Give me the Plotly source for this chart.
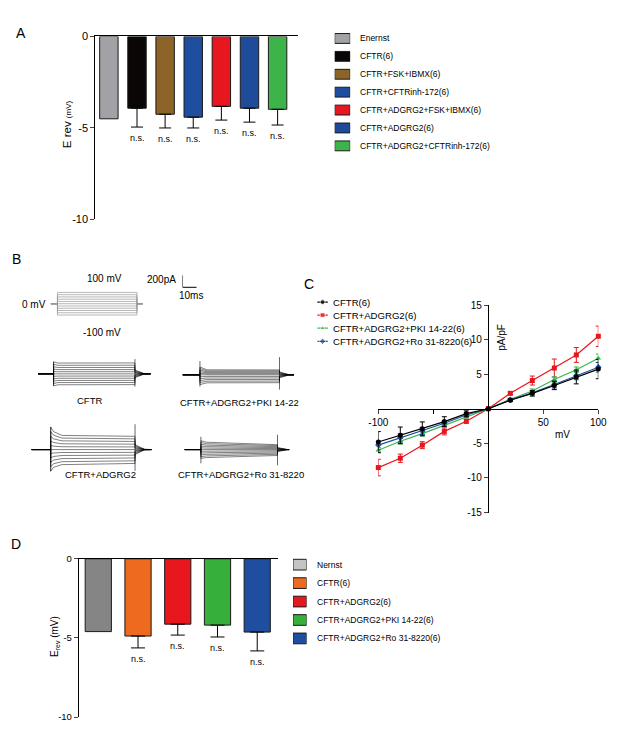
import plotly.graph_objects as go

W, H = 617, 730
FONT = "Liberation Sans, Arial, sans-serif"

# ---------------- panel A : reversal potentials ----------------
a_groups = ["Enernst", "CFTR(6)", "CFTR+FSK+IBMX(6)", "CFTR+CFTRinh-172(6)",
            "CFTR+ADGRG2+FSK+IBMX(6)", "CFTR+ADGRG2(6)", "CFTR+ADGRG2+CFTRinh-172(6)"]
a_erev = [-4.5, -3.92, -4.25, -4.41, -3.82, -3.92, -3.98]
a_sem = [0, 1.03, 0.75, 0.59, 0.75, 0.76, 0.86]
a_colors = ["#a2a2a6", "#0b0606", "#8c6428", "#1f4e9e", "#e8161e", "#1f4b9b", "#3cb44a"]

# ---------------- panel D : reversal potentials ----------------
d_groups = ["Nernst", "CFTR(6)", "CFTR+ADGRG2(6)", "CFTR+ADGRG2+PKI 14-22(6)",
            "CFTR+ADGRG2+Ro 31-8220(6)"]
d_erev = [-4.6, -4.88, -4.13, -4.19, -4.63]
d_sem = [0, 0.75, 0.69, 0.75, 1.19]
d_colors = ["#858585", "#ee6a1e", "#e8171d", "#36b03a", "#1f4ea1"]
d_swatch = ["#c4c4c4", "#ee6a1e", "#e8171d", "#36b03a", "#1f4ea1"]

# ---------------- panel C : I-V curves ----------------
iv_mv = [-100, -80, -60, -40, -20, 0, 20, 40, 60, 80, 100]
iv_names = ["CFTR(6)", "CFTR+ADGRG2(6)", "CFTR+ADGRG2+PKI 14-22(6)", "CFTR+ADGRG2+Ro 31-8220(6)"]
iv_cftr = [-4.8, -3.84, -2.9, -1.85, -0.7, 0, 1.24, 2.23, 3.37, 4.6, 5.74]
iv_cftr_sem = [1.5, 1.2, 1.0, 0.7, 0.4, 0, 0.2, 0.4, 0.6, 1.0, 1.4]
iv_adgrg2 = [-8.5, -7.15, -5.26, -3.27, -1.8, 0, 2.23, 4.08, 5.89, 7.78, 10.48]
iv_adgrg2_sem = [1.2, 0.6, 0.5, 0.5, 0.3, 0, 0.2, 0.65, 1.3, 1.07, 1.47]
iv_pki = [-6.0, -4.7, -3.6, -2.4, -1.14, 0, 1.38, 2.56, 4.22, 5.64, 7.3]
iv_pki_sem = [0.4, 0.4, 0.35, 0.3, 0.2, 0, 0.15, 0.3, 0.4, 0.4, 0.6]
iv_ro = [-5.25, -4.2, -3.2, -2.1, -0.9, 0, 1.3, 2.3, 3.5, 4.8, 6.0]
iv_ro_sem = [0.6, 0.6, 0.5, 0.4, 0.3, 0, 0.15, 0.3, 0.5, 0.6, 0.7]
iv_colors = ["#000000", "#e8161e", "#3cb44a", "#1f4ea1"]
iv_symbols = ["circle", "square", "triangle-up", "diamond"]

# ---------------- panel B : voltage protocol and current sweeps ----------------
sweep_mv = [-100, -80, -60, -40, -20, 0, 20, 40, 60, 80, 100]
proto_ms = [4.8, 56.6, 65.5]          # step onset, step length, sweep end

# per recording: [onset, step length, end] (ms), knots after onset (ms),
# currents at each knot (pA), tail current (pA), [on hi, on lo, off hi, off lo] artefacts (pA)
cftr_ms = [11.0, 57.9, 80.0]
cftr_knots = [0, 3, 57.9]
cftr_pA = [[-205, -165, -125, -84, -42, 0, 40, 80, 120, 162, 205],
           [-185, -148, -112, -75, -38, 0, 36, 72, 108, 145, 183],
           [-183, -147, -111, -74, -37, 0, 36, 72, 108, 146, 185]]
cftr_tail = [-65, -52, -39, -26, -13, 0, 13, 26, 39, 52, 65]
cftr_spike = [205, -205, 250, -217]

adgrg2_ms = [13.8, 60.0, 85.5]
adgrg2_knots = [0, 2, 8, 60.0]
adgrg2_pA = [[-367, -290, -215, -140, -68, 0, 70, 145, 225, 305, 383],
             [-300, -240, -178, -117, -58, 0, 58, 120, 182, 245, 305],
             [-255, -205, -153, -100, -50, 0, 48, 98, 148, 195, 240],
             [-235, -190, -142, -94, -47, 0, 45, 92, 138, 182, 225]]
adgrg2_tail = [-85, -68, -51, -34, -17, 0, 17, 34, 51, 68, 85]
adgrg2_spike = [383, -367, 430, -360]

pki_ms = [12.4, 56.6, 79.3]
pki_knots = [0, 5, 56.6]
pki_pA = [[-165, -130, -98, -65, -32, 0, 27, 54, 80, 107, 133],
          [-135, -108, -80, -54, -27, 0, 17, 34, 50, 67, 85],
          [-133, -106, -80, -53, -27, 0, 17, 33, 50, 67, 83]]
pki_tail = [-50, -40, -30, -20, -10, 0, 10, 20, 30, 40, 50]
pki_spike = [233, -200, 300, -250]

ro_ms = [11.7, 54.5, 74.5]
ro_knots = [0, 4, 54.5]
ro_pA = [[-150, -120, -90, -60, -30, 0, 30, 60, 90, 120, 150],
         [-135, -108, -81, -54, -27, 0, 25, 50, 75, 100, 125],
         [-100, -80, -60, -40, -20, 0, 17, 33, 50, 67, 83]]
ro_tail = [-35, -28, -21, -14, -7, 0, 7, 14, 21, 28, 35]
ro_spike = [217, -233, 250, -267]

tail_ms = 7
scale_bar = [200, 10]                 # pA, ms

PX_MS = 1.45     # pixels per ms in panel B
PX_PA = 0.06     # pixels per pA in panel B
PX_MV = 0.115    # pixels per mV in the protocol


def fx(p):
    return p / W


def fy(p):
    return 1 - p / H


def hidden_axes(layout, n, x0, y0, w, up, down, xscale, yscale):
    # hidden subplot whose data origin sits at pixel (x0, y0)
    layout[f"xaxis{n}"] = dict(domain=[fx(x0), fx(x0 + w)], range=[0, w / xscale],
                               visible=False, anchor=f"y{n}")
    layout[f"yaxis{n}"] = dict(domain=[fy(y0 + down), fy(y0 - up)],
                               range=[-down / yscale, up / yscale], visible=False, anchor=f"x{n}")


def legend_axes(layout, n, x0, x1, first_row, step, rows):
    # hidden subplot used as a hand-made legend: row k sits at first_row + k*step pixels
    layout[f"xaxis{n}"] = dict(domain=[fx(x0), fx(x1)], range=[0, 1], visible=False, anchor=f"y{n}")
    top = first_row - step / 2
    bottom = first_row + step * (rows - 0.5)
    layout[f"yaxis{n}"] = dict(domain=[fy(bottom), fy(top)], range=[rows - 0.5, -0.5],
                               visible=False, anchor=f"x{n}")


def sweeps(timing, knots, levels, tail, spike, n):
    onset, length, end = timing
    off = onset + length
    xs, ys = [], []
    for i in range(len(sweep_mv)):
        xs += [0, onset] + [onset + k for k in knots] + [off, off + tail_ms, end, None]
        ys += [0, 0] + [lv[i] for lv in levels] + [tail[i], 0, 0, None]
    traces = [go.Scatter(x=xs, y=ys, mode="lines", line=dict(color="black", width=0.5),
                         xaxis=f"x{n}", yaxis=f"y{n}", showlegend=False, hoverinfo="skip")]
    traces.append(go.Scatter(x=[onset, onset, None, off, off],
                             y=[spike[0], spike[1], None, spike[2], spike[3]],
                             mode="lines", line=dict(color="black", width=0.6),
                             xaxis=f"x{n}", yaxis=f"y{n}", showlegend=False, hoverinfo="skip"))
    return traces


fig = go.Figure()

# ---- bars A ----
for name, val, sem, col in zip(a_groups, a_erev, a_sem, a_colors):
    fig.add_trace(go.Bar(
        x=[name], y=[val], name=name, width=0.655,
        marker=dict(color=col, line=dict(color="#1a1a1a", width=1)),
        error_y=dict(type="data", symmetric=False, array=[0], arrayminus=[sem],
                     color="black", thickness=1, width=6, visible=sem > 0),
        xaxis="x", yaxis="y", showlegend=False, hoverinfo="skip"))

# ---- bars D ----
for name, val, sem, col in zip(d_groups, d_erev, d_sem, d_colors):
    fig.add_trace(go.Bar(
        x=[name], y=[val], name=name, width=0.66,
        marker=dict(color=col, line=dict(color="#1a1a1a", width=1)),
        error_y=dict(type="data", symmetric=False, array=[0], arrayminus=[sem],
                     color="black", thickness=1, width=7, visible=sem > 0),
        xaxis="x2", yaxis="y2", showlegend=False, hoverinfo="skip"))

# legend swatches A and D (hand-made legends)
fig.add_trace(go.Bar(x=[1] * len(a_groups), y=list(range(len(a_groups))), orientation="h",
                     width=0.55, marker=dict(color=a_colors, line=dict(color="#1a1a1a", width=1)),
                     xaxis="x11", yaxis="y11", showlegend=False, hoverinfo="skip"))
fig.add_trace(go.Bar(x=[1] * len(d_groups), y=list(range(len(d_groups))), orientation="h",
                     width=0.58, marker=dict(color=d_swatch, line=dict(color="#1a1a1a", width=1)),
                     xaxis="x12", yaxis="y12", showlegend=False, hoverinfo="skip"))

# ---- I-V C ----
iv_vals = [iv_cftr, iv_adgrg2, iv_pki, iv_ro]
iv_sems = [iv_cftr_sem, iv_adgrg2_sem, iv_pki_sem, iv_ro_sem]
for k in [1, 2, 3, 0]:
    fig.add_trace(go.Scatter(
        x=iv_mv, y=iv_vals[k], mode="lines+markers", name=iv_names[k],
        line=dict(color=iv_colors[k], width=1.2),
        marker=dict(symbol=iv_symbols[k], size=5, color=iv_colors[k]),
        error_y=dict(type="data", array=iv_sems[k], color=iv_colors[k], thickness=1, width=2.5),
        xaxis="x3", yaxis="y3", showlegend=False, cliponaxis=False, hoverinfo="skip"))

# hand-made legend for C (tight rows)
for k, name in enumerate(iv_names):
    fig.add_trace(go.Scatter(
        x=[0, 0.5, 1], y=[k, k, k], mode="lines+markers",
        line=dict(color=iv_colors[k], width=1.2),
        marker=dict(symbol=iv_symbols[k], size=[0, 5, 0], color=iv_colors[k]),
        xaxis="x10", yaxis="y10", showlegend=False, hoverinfo="skip", cliponaxis=False))

# ---- protocol B ----
pxs, pys = [], []
on, length, end = proto_ms
for v in sweep_mv:
    pxs += [0, on, on, on + length, on + length, end, None]
    pys += [0, 0, v, v, 0, 0, None]
fig.add_trace(go.Scatter(x=pxs, y=pys, mode="lines", line=dict(color="#9a9a9a", width=0.7),
                         xaxis="x4", yaxis="y4", showlegend=False, hoverinfo="skip"))

for tr in sweeps(cftr_ms, cftr_knots, cftr_pA, cftr_tail, cftr_spike, 5):
    fig.add_trace(tr)
for tr in sweeps(adgrg2_ms, adgrg2_knots, adgrg2_pA, adgrg2_tail, adgrg2_spike, 6):
    fig.add_trace(tr)
for tr in sweeps(pki_ms, pki_knots, pki_pA, pki_tail, pki_spike, 7):
    fig.add_trace(tr)
for tr in sweeps(ro_ms, ro_knots, ro_pA, ro_tail, ro_spike, 8):
    fig.add_trace(tr)

# scale bar
fig.add_trace(go.Scatter(x=[0, 0, scale_bar[1]], y=[scale_bar[0], 0, 0], mode="lines",
                         line=dict(color="black", width=1), xaxis="x9", yaxis="y9",
                         showlegend=False, hoverinfo="skip"))

layout = dict(
    width=W, height=H, margin=dict(l=0, r=0, t=0, b=0),
    paper_bgcolor="white", plot_bgcolor="rgba(0,0,0,0)", showlegend=False,
    barmode="overlay", font=dict(family=FONT, size=10, color="black"),
    xaxis=dict(domain=[fx(88), fx(297)], range=[-0.483, 6.72], type="category",
               side="top", showline=True, linecolor="black", linewidth=1,
               showticklabels=False, ticks="", showgrid=False, zeroline=False, anchor="y"),
    yaxis=dict(domain=[fy(217), fy(31)], range=[-10, 0], showline=True, linecolor="black",
               linewidth=1, ticks="outside", ticklen=4, tickwidth=1,
               tickvals=[0, -5, -10], ticktext=["0", "-5", "-10"],
               tickfont=dict(size=11), showgrid=False, zeroline=False, anchor="x"),
    xaxis2=dict(domain=[fx(71), fx(276)], range=[-0.49, 4.51], type="category",
                side="top", showline=True, linecolor="black", linewidth=1,
                showticklabels=False, ticks="", showgrid=False, zeroline=False, anchor="y2"),
    yaxis2=dict(domain=[fy(723), fy(562)], range=[-10, 0], showline=True, linecolor="black",
                linewidth=1, ticks="outside", ticklen=4, tickwidth=1,
                tickvals=[0, -5, -10], ticktext=["0", "-5", "-10"],
                tickfont=dict(size=9.5), showgrid=False, zeroline=False, anchor="x2"),
    xaxis3=dict(domain=[fx(380), fx(607)], range=[-100, 100], anchor="free",
                position=fy(409.7), showline=True, linecolor="black", linewidth=1,
                ticks="outside", ticklen=4, tickvals=[-100, 50, 100],
                ticktext=["-100", "50", "100"], tickfont=dict(size=10),
                minor=dict(tickvals=[-50], ticks="outside", ticklen=4, tickcolor="black"),
                showgrid=False, zeroline=False),
    yaxis3=dict(domain=[fy(515), fy(304)], range=[-15, 15], anchor="free",
                position=fx(493), showline=True, linecolor="black", linewidth=1,
                ticks="outside", ticklen=4, tickvals=[-15, -10, -5, 5, 10, 15],
                ticktext=["-15", "-10", "-5", "5", "10", "15"], tickfont=dict(size=10),
                showgrid=False, zeroline=False),
)
hidden_axes(layout, 4, 42, 302.7, 96, 16, 16, PX_MS, PX_MV)
hidden_axes(layout, 5, 29, 374, 117, 22, 22, PX_MS, PX_PA)
hidden_axes(layout, 6, 22, 451, 125, 30, 30, PX_MS, PX_PA)
hidden_axes(layout, 7, 178, 375, 116, 22, 22, PX_MS, PX_PA)
hidden_axes(layout, 8, 180, 451, 109, 20, 20, PX_MS, PX_PA)
hidden_axes(layout, 9, 178, 286, 20, 16, 4, PX_MS, PX_PA)
legend_axes(layout, 10, 317, 328, 301, 13.3, len(iv_names))
legend_axes(layout, 11, 335, 351, 33, 18.2, len(a_groups))
legend_axes(layout, 12, 292, 306, 568, 18.75, len(d_groups))
fig.update_layout(**layout)

ann = []


def label(text, x, y, size=10, angle=0, xanchor="center"):
    ann.append(dict(text=text, x=fx(x), y=fy(y), xref="paper", yref="paper", showarrow=False,
                    xanchor=xanchor, yanchor="middle", textangle=angle,
                    font=dict(family=FONT, size=size, color="black")))


# panel letters
label("A", 11, 27, 14)
label("B", 7, 257, 14)
label("C", 309, 283, 14)
label("D", 6, 547, 14)

# axis titles
label("E rev <span style='font-size:8px'>(mV)</span>", 59, 120, 11.5, -90)
label("E<sub>rev</sub> (mV)", 47, 641, 10, -90)
label("mV", 570, 436, 10)
label("pA/pF", 507, 337, 10, -90)

# panel B texts
label("100 mV", 98, 277, 10)
label("0 mV", 25, 303, 10)
label("-100 mV", 95, 332, 10)
label("200pA", 173, 278, 10, xanchor="right")
label("10ms", 187, 294, 10)
label("CFTR", 82, 401, 9.5)
label("CFTR+ADGRG2", 93, 476, 9.5)
label("CFTR+ADGRG2+PKI 14-22", 237, 403, 9.5)
label("CFTR+ADGRG2+Ro 31-8220", 238, 476, 9.5)

# n.s. marks under error bars
for name, val, sem in zip(a_groups[1:], a_erev[1:], a_sem[1:]):
    ann.append(dict(text="n.s.", x=name, y=val - sem, xref="x", yref="y", yanchor="top",
                    yshift=-4, showarrow=False, font=dict(family=FONT, size=9)))
for name, val, sem in zip(d_groups[1:], d_erev[1:], d_sem[1:]):
    ann.append(dict(text="n.s.", x=name, y=val - sem, xref="x2", yref="y2", yanchor="top",
                    yshift=-4, showarrow=False, font=dict(family=FONT, size=9)))

# legend texts
for k, name in enumerate(iv_names):
    ann.append(dict(text=name, x=1, y=k, xref="x10", yref="y10", xanchor="left",
                    xshift=3, showarrow=False, font=dict(family=FONT, size=9.6)))
for k, name in enumerate(a_groups):
    ann.append(dict(text=name, x=1, y=k, xref="x11", yref="y11", xanchor="left",
                    xshift=8, showarrow=False, font=dict(family=FONT, size=8.5)))
for k, name in enumerate(d_groups):
    ann.append(dict(text=name, x=1, y=k, xref="x12", yref="y12", xanchor="left",
                    xshift=8, showarrow=False, font=dict(family=FONT, size=8.5)))

fig.update_layout(annotations=ann)
fig.write_html("out.html", config={"displayModeBar": False},
               post_script="document.body.style.margin = '0px';")
